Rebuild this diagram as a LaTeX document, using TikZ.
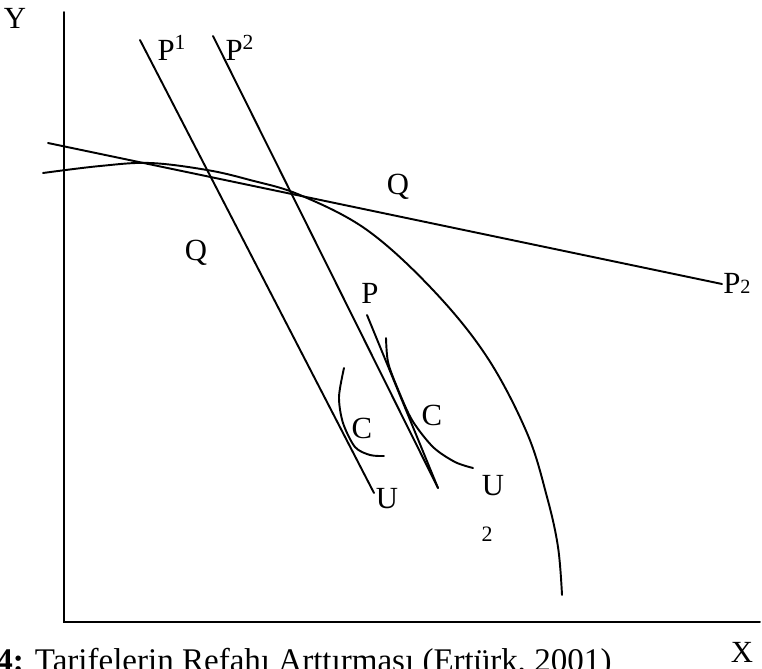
\documentclass[tikz,border=0pt]{standalone}
\usepackage{fontspec}
\setmainfont{Liberation Serif}
\begin{document}
\begin{tikzpicture}[
  ln/.style={line width=1.1pt,line cap=round},
  lbl/.style={font=\fontsize{17.5}{21}\selectfont,inner sep=0pt},
  ]
\useasboundingbox (0,0) rectangle (15.24,-13.36);
\clip (0,0) rectangle (15.24,-13.36);
\draw[ln] (1.280,-0.240) -- (1.280,-12.440) -- (15.200,-12.440);
\draw[ln] (2.800,-0.800) -- (7.480,-9.860);
\draw[ln] (4.260,-0.720) -- (8.760,-9.760);
\draw[ln] (0.960,-2.860) -- (14.440,-5.680);
\draw[ln] (7.340,-6.300) -- (8.760,-9.760);
\draw[ln] plot[smooth,tension=0.6] coordinates {(0.86,-3.46) (2.00,-3.32) (3.00,-3.26) (4.14,-3.40) (5.00,-3.60) (6.00,-3.90) (7.34,-4.60) (8.66,-5.80) (9.74,-7.14) (10.54,-8.66) (10.94,-9.94) (11.16,-10.94) (11.24,-11.90)};
\draw[ln] plot[smooth] coordinates {(6.88,-7.36) (6.78,-7.94) (6.86,-8.46) (7.10,-8.94) (7.40,-9.10) (7.68,-9.12)};
\draw[ln] plot[smooth] coordinates {(7.72,-6.76) (7.76,-7.24) (7.94,-7.74) (8.24,-8.40) (8.66,-8.94) (9.10,-9.24) (9.46,-9.36)};
\node[lbl] (yaxis) at (0.300,-0.360) {Y};
\node[lbl] (xaxis) at (14.840,-13.040) {X};
\node[lbl] (pone) at (3.440,-0.960) {P\textsuperscript{1}};
\node[lbl] (ptwo) at (4.800,-0.960) {P\textsuperscript{2}};
\node[lbl] (qup) at (7.960,-3.740) {Q};
\node[lbl] (qlow) at (3.920,-5.060) {Q};
\node[lbl,anchor=base west] (pworld) at (14.460,-5.860) {P{\fontsize{11.5}{13}\selectfont 2}};
\node[lbl] (ptan) at (7.400,-5.860) {P};
\node[lbl] (cone) at (7.240,-8.560) {C};
\node[lbl] (ctwo) at (8.640,-8.300) {C};
\node[lbl] (uone) at (7.740,-9.980) {U};
\node[lbl] (utwo) at (9.860,-9.720) {U};
\node[font=\fontsize{12.5}{15}\selectfont,inner sep=0pt] (utwosub) at (9.740,-10.680) {2};
\node[font=\fontsize{18.8}{22}\selectfont,inner sep=0pt,anchor=base west] (caption) at (-0.080,-13.420) {\textbf{4:} Tarifelerin Refahı Arttırması (Ertürk, 2001)};
\end{tikzpicture}
\end{document}
